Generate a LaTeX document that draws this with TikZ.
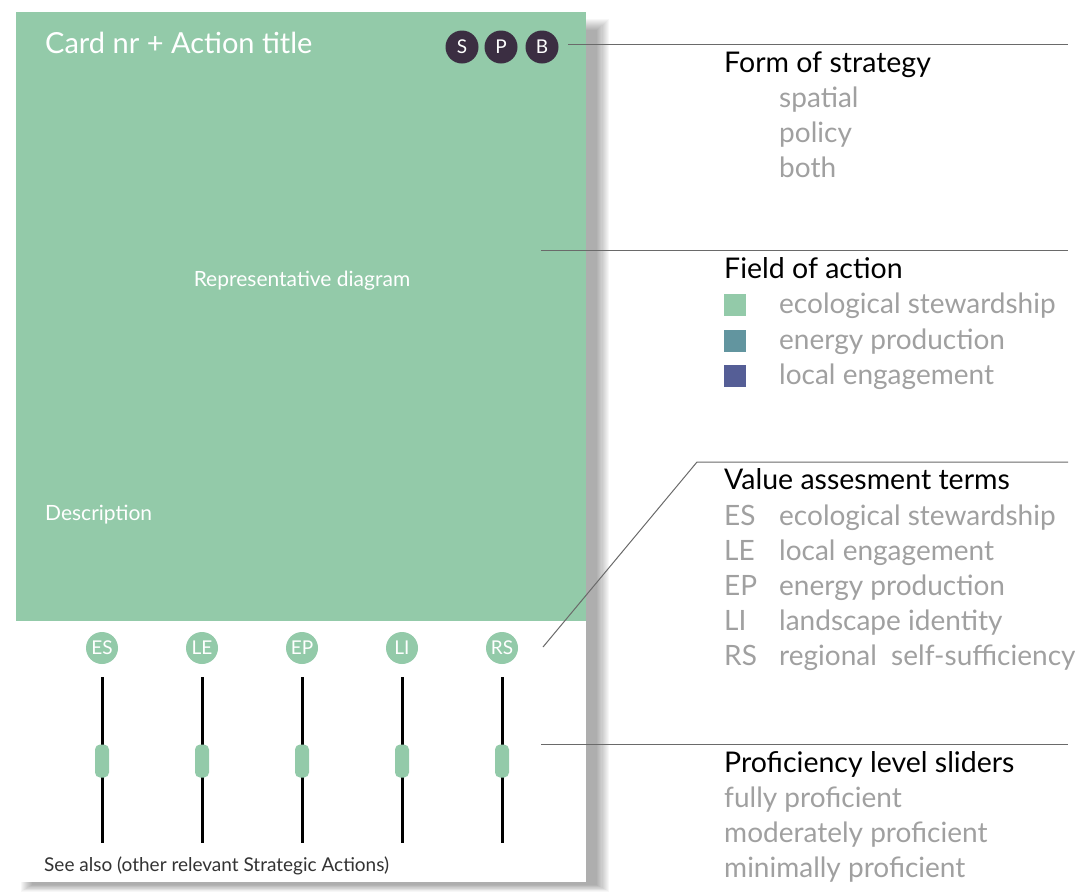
\documentclass[tikz,border=0pt]{standalone}
\usepackage{fontspec}
\setmainfont{Lato}
\usepackage{xcolor}
\usetikzlibrary{positioning}

\definecolor{cardgreen}{HTML}{93CAA9}
\definecolor{energyteal}{HTML}{62959F}
\definecolor{engageblue}{HTML}{555E96}
\definecolor{badgepurple}{HTML}{3B2E42}
\definecolor{legendgray}{HTML}{A0A0A0}
\definecolor{leadgray}{HTML}{6A6A6A}

\begin{document}
\begin{tikzpicture}[
    x=1pt, y=-1pt,
    badge/.style={circle, fill=badgepurple, text=white, minimum size=33pt, inner sep=0pt, font=\fontsize{19}{19}\selectfont},
    tag/.style={circle, fill=cardgreen, text=white, minimum size=32pt, inner sep=0pt, font=\fontsize{19}{19}\selectfont},
    track/.style={line width=3pt, black},
    knob/.style={rectangle, rounded corners=5pt, fill=cardgreen, minimum width=14pt, minimum height=33pt, inner sep=0pt},
    cardtext/.style={text=white, inner sep=0pt, font=\fontsize{21}{21}\selectfont},
    heading/.style={anchor=base west, inner sep=0pt, text=black, font=\fontsize{28.5}{28.5}\selectfont},
    entry/.style={anchor=base west, inner sep=0pt, text=legendgray, font=\fontsize{28}{28}\selectfont},
    swatch/.style={rectangle, anchor=north west, minimum size=22pt, inner sep=0pt},
    leader/.style={draw=leadgray, line width=1pt}
]
\useasboundingbox (0,0) rectangle (1075,892);

% soft shadow behind the card
\foreach \i in {0,...,11} {
  \fill[black, opacity=0.032] (32-\i,30-\i) rectangle (597+1.1*\i,885+0.6*\i);
}

% card
\fill[white] (16,12) rectangle (586,882);
\fill[cardgreen] (16,12) rectangle (586,621);

\node[cardtext, anchor=base west, font=\fontsize{29}{29}\selectfont] (title) at (45,53) {Card nr + Action title};
\node[badge] (badgeS) at (462,47) {S};
\node[badge] (badgeP) at (501,47) {P};
\node[badge] (badgeB) at (542,47) {B};
\node[cardtext] (diagram) at (302,281) {Representative diagram};
\node[cardtext, anchor=west] (descr) at (45,515) {Description};

% sliders
\foreach \t/\x in {ES/102, LE/202, EP/302, LI/402, RS/502} {
  \node[tag] (tag\t) at (\x,648) {\t};
  \coordinate (top\t) at (\x,677);
  \coordinate (bot\t) at (\x,843);
  \draw[track] (top\t) -- (bot\t);
  \node[knob] (knob\t) at (\x,761) {};
}
\node[anchor=west, inner sep=0pt, text=black!80, font=\fontsize{19}{19}\selectfont] (seealso) at (44,866) {See also (other relevant Strategic Actions)};

% leader lines
\coordinate (startA) at (568,44);
\coordinate (lineA) at (1068,44);
\coordinate (startB) at (541,250);
\coordinate (lineB) at (1068,250);
\coordinate (startC) at (543,647);
\coordinate (bendC) at (697,462);
\coordinate (lineC) at (1068,462);
\coordinate (startD) at (541,744);
\coordinate (lineD) at (1068,744);
\draw[leader] (startA) -- (lineA);
\draw[leader] (startB) -- (lineB);
\draw[leader] (startC) -- (bendC) -- (lineC);
\draw[leader] (startD) -- (lineD);

% legend: form of strategy
\node[heading] (form) at (724,72) {Form of strategy};
\node[entry] (spatial) at (779,107) {spatial};
\node[entry] (policy) at (779,142) {policy};
\node[entry] (both) at (779,177) {both};

% legend: field of action
\node[heading] (field) at (724,278) {Field of action};
\node[swatch, fill=cardgreen] (swES) at (724,294) {};
\node[swatch, fill=energyteal] (swEP) at (724,330) {};
\node[swatch, fill=engageblue] (swLE) at (724,365) {};
\node[entry] (fieldES) at (779,313) {ecological stewardship};
\node[entry] (fieldEP) at (779,349) {energy production};
\node[entry] (fieldLE) at (779,384) {local engagement};

% legend: value assessment terms
\node[heading] (value) at (724,489) {Value assesment terms};
\node[entry] (abES) at (724,525) {ES};
\node[entry] (abLE) at (724,560) {LE};
\node[entry] (abEP) at (724,595) {EP};
\node[entry] (abLI) at (724,630) {LI};
\node[entry] (abRS) at (724,665) {RS};
\node[entry] (termES) at (779,525) {ecological stewardship};
\node[entry] (termLE) at (779,560) {local engagement};
\node[entry] (termEP) at (779,595) {energy production};
\node[entry] (termLI) at (779,630) {landscape identity};
\node[entry] (termRS) at (779,665) {regional\ \ self-sufficiency};

% legend: proficiency level sliders
\node[heading] (prof) at (724,772) {Proficiency level sliders};
\node[entry] (fully) at (724,807) {fully proficient};
\node[entry] (moder) at (724,842) {moderately proficient};
\node[entry] (minim) at (724,877) {minimally proficient};
\end{tikzpicture}
\end{document}
